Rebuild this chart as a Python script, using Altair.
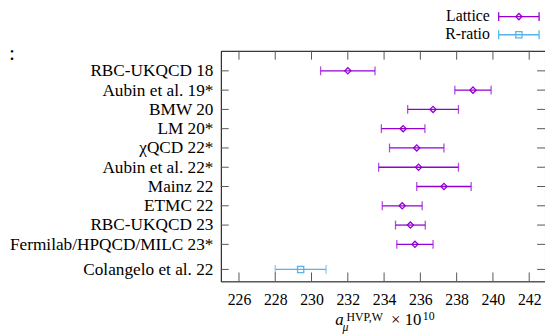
import altair as alt
import pandas as pd

names = ["RBC-UKQCD 18", "Aubin et al. 19*", "BMW 20", "LM 20*", "χQCD 22*",
         "Aubin et al. 22*", "Mainz 22", "ETMC 22", "RBC-UKQCD 23",
         "Fermilab/HPQCD/MILC 23*", "Colangelo et al. 22"]
positions = [0, 1, 2, 3, 4, 5, 6, 7, 8, 9, 10.3]
values = [232.0, 238.9, 236.7, 235.05, 235.8, 235.9, 237.3, 235.0, 235.45, 235.7, 229.4]
errors = [1.5, 1.0, 1.4, 1.2, 1.5, 2.2, 1.5, 1.1, 0.82, 1.0, 1.4]
types = ["Lattice"] * 10 + ["R-ratio"]
type_names = ["Lattice", "R-ratio"]
type_colors = ["#9400D3", "#56B4E9"]
type_shapes = ["diamond", "square"]
xticks = [226, 228, 230, 232, 234, 236, 238, 240, 242]

W, H = 329, 234
FONT = "Liberation Serif"

df = pd.DataFrame({"name": names, "pos": positions, "val": values,
                   "err": errors, "type": types})
one = pd.DataFrame({"a": [0]})
xt = pd.DataFrame({"t": xticks})

label_expr = ""
for p, n in zip(positions, names):
    label_expr += f"datum.value == {p} ? '{n}' : "
label_expr += "''"

xs = alt.Scale(domain=[225, 225 + W / 18.41], nice=False, zero=False)
ys = alt.Scale(domain=[-1.04, 10.92], reverse=True, nice=False, zero=False)
xax = alt.Axis(values=xticks, ticks=False, domain=False, grid=False,
               labelFont=FONT, labelFontSize=16, labelColor="black",
               labelPadding=10, title=None, labelFlush=False, labelOverlap=False)
yax = alt.Axis(values=positions, labelExpr=label_expr, ticks=False,
               domain=False, grid=False, labelFont=FONT,
               labelFontSize=17.5, labelColor="black", labelLimit=400,
               labelPadding=8, title=None, labelOverlap=False,
               labelFlush=False, labelBound=False)
col = alt.Color("type:N", scale=alt.Scale(domain=type_names, range=type_colors), legend=None)


def X(f):
    return alt.X(f, scale=xs, axis=xax)


def Y(f):
    return alt.Y(f, scale=ys, axis=yax)


base = alt.Chart(df).transform_calculate(lo="datum.val - datum.err", hi="datum.val + datum.err")

bars = base.mark_rule(strokeWidth=1.3).encode(x=X("lo:Q"), x2="hi:Q", y=Y("pos:Q"), color=col)
cap_lo = base.mark_tick(orient="vertical", size=9, thickness=1.3).encode(
    x=X("lo:Q"), y=Y("pos:Q"), color=col)
cap_hi = base.mark_tick(orient="vertical", size=9, thickness=1.3).encode(
    x=X("hi:Q"), y=Y("pos:Q"), color=col)
pts = base.mark_point(filled=False, size=40, strokeWidth=1.3, opacity=1).encode(
    x=X("val:Q"), y=Y("pos:Q"), color=col,
    shape=alt.Shape("type:N", scale=alt.Scale(domain=type_names, range=type_shapes), legend=None))

tick_col = "#555555"
yt_l = alt.Chart(df).mark_rule(color=tick_col).encode(
    x=alt.value(0), x2=alt.value(8), y=Y("pos:Q"))
yt_r = alt.Chart(df).mark_rule(color=tick_col).encode(
    x=alt.value(W - 8), x2=alt.value(W), y=Y("pos:Q"))
xt_t = alt.Chart(xt).mark_rule(color=tick_col).encode(
    x=X("t:Q"), y=alt.value(0), y2=alt.value(9))
xt_b = alt.Chart(xt).mark_rule(color=tick_col).encode(
    x=X("t:Q"), y=alt.value(H - 9), y2=alt.value(H))

layers = [bars, cap_lo, cap_hi, pts, yt_l, yt_r, xt_t, xt_b]

# legend
leg_y = [-34.7, -16.3]
for i, (nm, c, sh) in enumerate(zip(type_names, type_colors, type_shapes)):
    yy = leg_y[i]
    layers.append(alt.Chart(one).mark_text(text=nm, font=FONT, fontSize=16, align="right",
                                            baseline="alphabetic", color="black").encode(
        x=alt.value(273), y=alt.value(yy + 4.6)))
    layers.append(alt.Chart(one).mark_rule(color=c, strokeWidth=1.3).encode(
        x=alt.value(282), x2=alt.value(323), y=alt.value(yy)))
    layers.append(alt.Chart(one).mark_rule(color=c, strokeWidth=1.3).encode(
        x=alt.value(282), y=alt.value(yy - 4.5), y2=alt.value(yy + 4.5)))
    layers.append(alt.Chart(one).mark_rule(color=c, strokeWidth=1.3).encode(
        x=alt.value(323), y=alt.value(yy - 4.5), y2=alt.value(yy + 4.5)))
    layers.append(alt.Chart(one).mark_point(shape=sh, filled=False, size=40, strokeWidth=1.3,
                                             color=c, opacity=1).encode(
        x=alt.value(302.5), y=alt.value(yy)))

# stray colon at top-left
layers.append(alt.Chart(one).mark_text(text=":", font=FONT, fontSize=22, align="left",
                                        baseline="middle", color="black").encode(
    x=alt.value(-215), y=alt.value(2)))

# axis title: a_mu^{HVP,W} x 10^{10}
title_parts = [
    ("a", 116.0, 278.3, 17, "italic"),
    ("μ", 123.5, 284.0, 12, "italic"),
    ("HVP,W", 127.5, 274.0, 12, "normal"),
    ("× 10", 172.7, 278.3, 17, "normal"),
    ("10", 205.0, 273.0, 12, "normal"),
]
for txt, tx, ty, fs, st in title_parts:
    layers.append(alt.Chart(one).mark_text(text=txt, font=FONT, fontSize=fs, fontStyle=st,
                                            align="left", baseline="alphabetic",
                                            color="black").encode(
        x=alt.value(tx), y=alt.value(ty)))

chart = alt.layer(*layers).properties(
    width=W, height=H,
    autosize=alt.AutoSizeParams(type="none"),
    padding={"left": 216, "top": 41, "right": 0, "bottom": 52},
).configure_view(stroke="black", strokeWidth=1).configure_axis(labelOverlap=False)

chart.save("out.html", embed_options={"renderer": "svg", "actions": False})
